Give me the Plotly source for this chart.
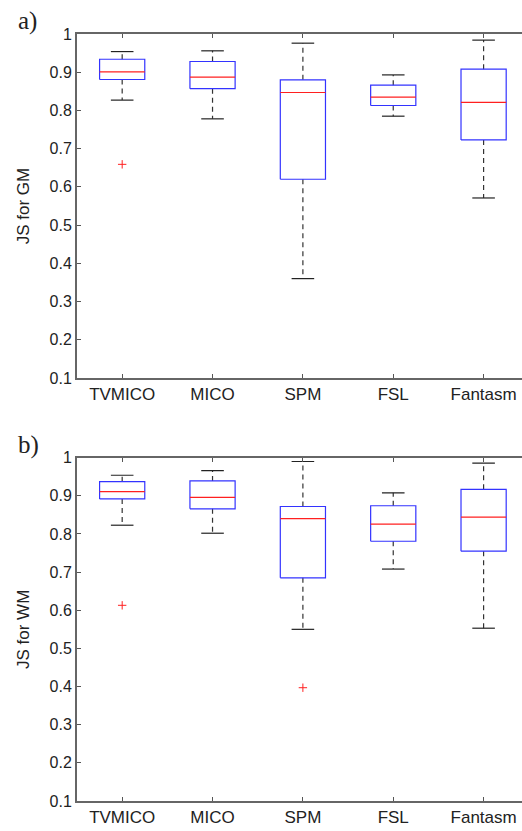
import plotly.graph_objects as go

categories = ["TVMICO", "MICO", "SPM", "FSL", "Fantasm"]
ytick_vals = [0.1, 0.2, 0.3, 0.4, 0.5, 0.6, 0.7, 0.8, 0.9, 1.0]
ytick_text = ["0.1", "0.2", "0.3", "0.4", "0.5", "0.6", "0.7", "0.8", "0.9", "1"]

# GM (panel a)
gm_lower = [0.827, 0.778, 0.360, 0.785, 0.571]
gm_q1 = [0.881, 0.857, 0.620, 0.813, 0.723]
gm_median = [0.901, 0.887, 0.847, 0.835, 0.821]
gm_q3 = [0.934, 0.928, 0.880, 0.866, 0.908]
gm_upper = [0.954, 0.956, 0.976, 0.893, 0.984]
gm_outliers = {"TVMICO": [0.659]}

# WM (panel b)
wm_lower = [0.823, 0.802, 0.550, 0.708, 0.553]
wm_q1 = [0.892, 0.866, 0.685, 0.781, 0.755]
wm_median = [0.911, 0.896, 0.840, 0.826, 0.844]
wm_q3 = [0.937, 0.939, 0.872, 0.874, 0.917]
wm_upper = [0.954, 0.966, 0.990, 0.908, 0.986]
wm_outliers = {"TVMICO": [0.613], "SPM": [0.397]}

BOX_HALF = 0.25
CAP_HALF = 0.125

fig = go.Figure()


def add_panel(lower, q1, med, q3, upper, outliers, xa, ya):
    bx, by, mx, my, wx, wy, cx, cy = [], [], [], [], [], [], [], []
    for i, c in enumerate(categories):
        p = i + 1
        bx += [p - BOX_HALF, p + BOX_HALF, p + BOX_HALF, p - BOX_HALF, p - BOX_HALF, None]
        by += [q1[i], q1[i], q3[i], q3[i], q1[i], None]
        mx += [p - BOX_HALF, p + BOX_HALF, None]
        my += [med[i], med[i], None]
        wx += [p, p, None, p, p, None]
        wy += [q3[i], upper[i], None, q1[i], lower[i], None]
        cx += [p - CAP_HALF, p + CAP_HALF, None, p - CAP_HALF, p + CAP_HALF, None]
        cy += [upper[i], upper[i], None, lower[i], lower[i], None]
    ox, oy = [], []
    for c, vals in outliers.items():
        for v in vals:
            ox.append(categories.index(c) + 1)
            oy.append(v)
    common = dict(xaxis=xa, yaxis=ya, showlegend=False, hoverinfo="skip")
    fig.add_trace(go.Scatter(x=wx, y=wy, mode="lines",
                             line=dict(color="#333333", width=1.2, dash="5px,4px"), **common))
    fig.add_trace(go.Scatter(x=cx, y=cy, mode="lines",
                             line=dict(color="#222222", width=1.2), **common))
    fig.add_trace(go.Scatter(x=bx, y=by, mode="lines",
                             line=dict(color="#3333ff", width=1.2), **common))
    fig.add_trace(go.Scatter(x=mx, y=my, mode="lines",
                             line=dict(color="#ff2020", width=1.2), **common))
    fig.add_trace(go.Scatter(x=ox, y=oy, mode="markers",
                             marker=dict(symbol="cross-thin", size=6,
                                         line=dict(color="#ff2020", width=1)), **common))


add_panel(gm_lower, gm_q1, gm_median, gm_q3, gm_upper, gm_outliers, "x", "y")
add_panel(wm_lower, wm_q1, wm_median, wm_q3, wm_upper, wm_outliers, "x2", "y2")

FONT = "Liberation Sans, Arial"
xcommon = dict(range=[0.5, 5.425], tickmode="array", tickvals=[1, 2, 3, 4, 5],
               ticktext=categories, ticks="inside", ticklen=4, tickcolor="#555555",
               showline=True, linecolor="#666666", linewidth=2, mirror="ticks",
               showgrid=False, zeroline=False, automargin=False,
               tickfont=dict(family=FONT, size=17, color="#222222"))
ycommon = dict(range=[0.1, 1.0], tickmode="array", tickvals=ytick_vals,
               ticktext=ytick_text, ticks="inside", ticklen=4, tickcolor="#555555",
               showline=True, linecolor="#666666", linewidth=2,
               showgrid=False, zeroline=False, automargin=False,
               tickfont=dict(family=FONT, size=16, color="#222222"))

fig.update_layout(
    width=522, height=831,
    margin=dict(l=77, r=0, t=34, b=30),
    plot_bgcolor="white", paper_bgcolor="white",
    xaxis=dict(domain=[0, 1], anchor="y", **xcommon),
    yaxis=dict(domain=[0.5515, 1.0], anchor="x",
               title=dict(text="JS for GM", font=dict(family=FONT, size=17, color="#222222"),
                          standoff=16),
               **ycommon),
    xaxis2=dict(domain=[0, 1], anchor="y2", **xcommon),
    yaxis2=dict(domain=[0.0, 0.4476], anchor="x2",
                title=dict(text="JS for WM", font=dict(family=FONT, size=17, color="#222222"),
                           standoff=16),
                **ycommon),
    annotations=[
        dict(text="a)", xref="paper", yref="paper", x=-0.138, y=1.0, yshift=-3,
             xanchor="left", yanchor="bottom", showarrow=False,
             font=dict(family="Liberation Serif, Times New Roman", size=25, color="#222222")),
        dict(text="b)", xref="paper", yref="paper", x=-0.138, y=0.4476, yshift=-3,
             xanchor="left", yanchor="bottom", showarrow=False,
             font=dict(family="Liberation Serif, Times New Roman", size=25, color="#222222")),
    ],
)

fig.write_html("out.html", config={"displayModeBar": False},
               post_script="document.body.style.margin='0';document.body.style.overflow='hidden';")
